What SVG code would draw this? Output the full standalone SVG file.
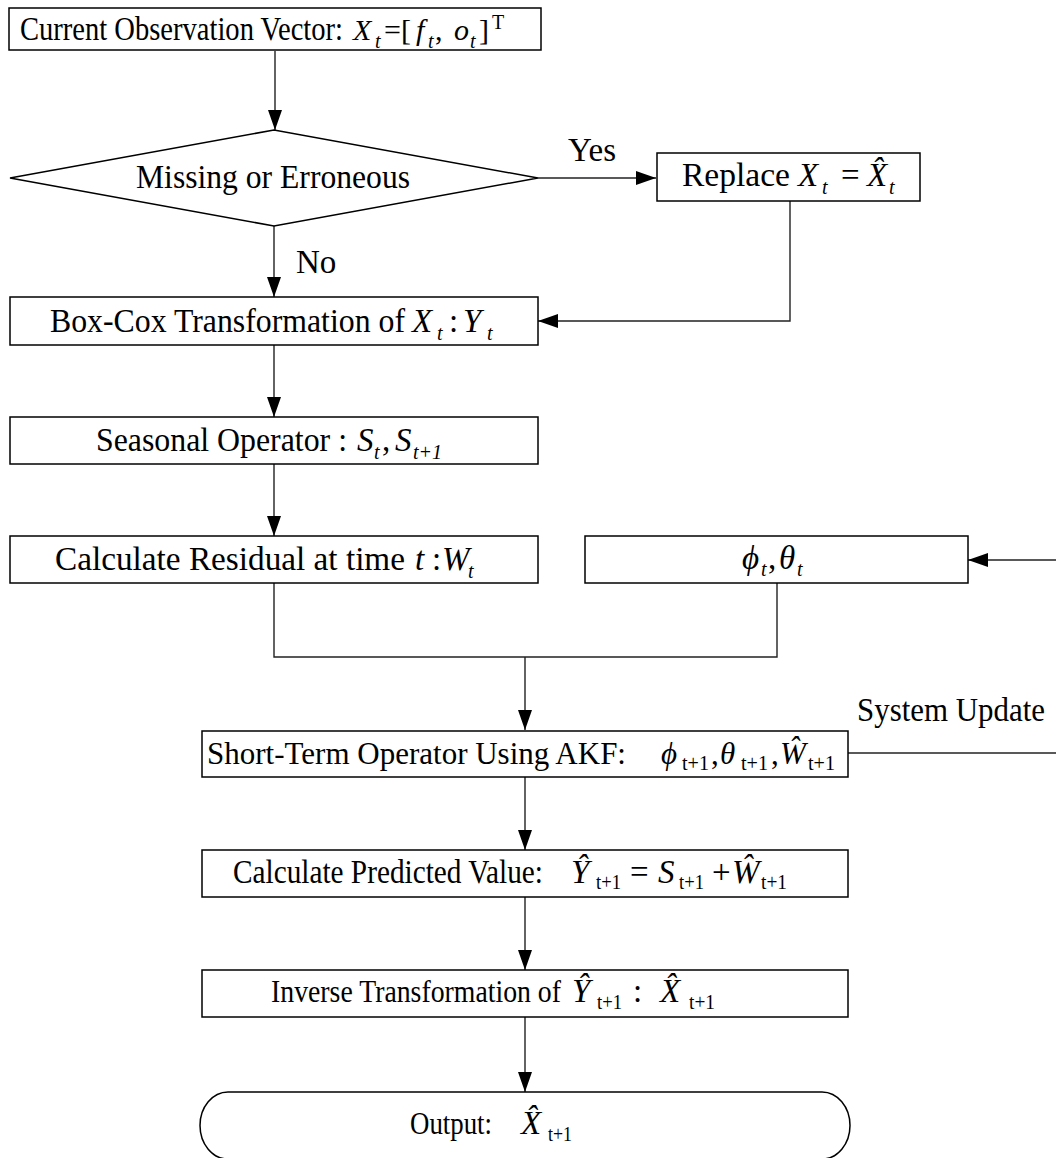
<svg xmlns="http://www.w3.org/2000/svg" width="1056" height="1158" viewBox="0 0 1056 1158">
<style>
.box{fill:#fff;stroke:#000;stroke-width:1.5}
.ln{fill:none;stroke:#222;stroke-width:1.4}
text{font-family:"Liberation Serif","Times New Roman",serif;font-size:33px;fill:#000}
.i{font-style:italic}
.s{font-size:20px;font-style:italic}
.sr{font-size:20px}
</style>
<defs>
<marker id="ah" markerUnits="userSpaceOnUse" markerWidth="20" markerHeight="14" refX="20" refY="7" orient="auto">
<path d="M0,0 L20,7 L0,14 Z" fill="#000"/>
</marker>
</defs>
<rect width="1056" height="1158" fill="#fff"/>
<g id="connectors">
<path class="ln" d="M275,51 V130" marker-end="url(#ah)"/>
<path class="ln" d="M538,178 H656" marker-end="url(#ah)"/>
<path class="ln" d="M274,226 V297" marker-end="url(#ah)"/>
<path class="ln" d="M790,201 V321 H538" marker-end="url(#ah)"/>
<path class="ln" d="M274,345 V417" marker-end="url(#ah)"/>
<path class="ln" d="M274,464 V536" marker-end="url(#ah)"/>
<path class="ln" d="M274,583 V657 H777 V583"/>
<path class="ln" d="M525,657 V730" marker-end="url(#ah)"/>
<path class="ln" d="M1056,560 H968" marker-end="url(#ah)"/>
<path class="ln" d="M848,753 H1056"/>
<path class="ln" d="M525,777 V850" marker-end="url(#ah)"/>
<path class="ln" d="M525,897 V970" marker-end="url(#ah)"/>
<path class="ln" d="M525,1017 V1092" marker-end="url(#ah)"/>
<text x="568" y="161" font-size="31">Yes</text>
<text x="296" y="273" font-size="30">No</text>
<text x="857" y="721" font-size="32" textLength="188" lengthAdjust="spacingAndGlyphs">System Update</text>
</g>
<g id="n1">
<rect class="box" x="9" y="8" width="532" height="42"/>
<text y="40" font-size="28.5"><tspan x="20" textLength="323" lengthAdjust="spacingAndGlyphs">Current Observation Vector:</tspan><tspan class="i" x="353" font-size="30">X</tspan><tspan class="s" x="375" dy="8">t</tspan><tspan x="384" dy="-8" font-size="30">=[</tspan><tspan class="i" x="416" font-size="30">f</tspan><tspan class="s" x="428" dy="8">t</tspan><tspan x="435" dy="-8" font-size="30">,</tspan><tspan class="i" x="454" font-size="30">o</tspan><tspan class="s" x="470" dy="8">t</tspan><tspan x="479" dy="-8" font-size="30">]</tspan><tspan class="sr" x="492" dy="-11">T</tspan></text>
</g>
<g id="n2">
<polygon class="box" points="10,178 274,130 538,178 274,226"/>
<text x="273" y="188" text-anchor="middle" font-size="31" textLength="274" lengthAdjust="spacingAndGlyphs">Missing or Erroneous</text>
</g>
<g id="n3">
<rect class="box" x="657" y="153" width="263" height="48"/>
<text y="186"><tspan x="682" textLength="108" lengthAdjust="spacingAndGlyphs">Replace</tspan><tspan class="i" x="798">X</tspan><tspan class="s" x="822" dy="8">t</tspan><tspan x="841" dy="-8">=</tspan><tspan class="i" x="867">X̂</tspan><tspan class="s" x="889" dy="8">t</tspan></text>
</g>
<g id="n4">
<rect class="box" x="10" y="297" width="528" height="48"/>
<text y="332"><tspan x="50" textLength="355" lengthAdjust="spacingAndGlyphs">Box-Cox Transformation of</tspan><tspan class="i" x="412">X</tspan><tspan class="s" x="437" dy="8">t</tspan><tspan x="449" dy="-8">:</tspan><tspan class="i" x="463">Y</tspan><tspan class="s" x="487" dy="8">t</tspan></text>
</g>
<g id="n5">
<rect class="box" x="10" y="417" width="528" height="47"/>
<text y="451"><tspan x="96" textLength="251" lengthAdjust="spacingAndGlyphs">Seasonal Operator :</tspan><tspan class="i" x="357">S</tspan><tspan class="s" x="374" dy="8">t</tspan><tspan x="382" dy="-8">,</tspan><tspan class="i" x="395">S</tspan><tspan class="s" x="413" dy="8">t+1</tspan></text>
</g>
<g id="n6">
<rect class="box" x="10" y="536" width="528" height="47"/>
<text y="570"><tspan x="55" textLength="350" lengthAdjust="spacingAndGlyphs">Calculate Residual at time</tspan><tspan class="i" x="415">t</tspan><tspan x="432">:</tspan><tspan class="i" x="442">W</tspan><tspan class="s" x="468" dy="8">t</tspan></text>
</g>
<g id="n7">
<rect class="box" x="585" y="536" width="383" height="47"/>
<text y="569"><tspan class="i" x="742">ϕ</tspan><tspan class="s" x="761" dy="7">t</tspan><tspan x="768" dy="-7">,</tspan><tspan class="i" x="779">θ</tspan><tspan class="s" x="797" dy="7">t</tspan></text>
</g>
<g id="n8">
<rect class="box" x="202" y="731" width="646" height="46"/>
<text y="764"><tspan x="207" font-size="31" textLength="419" lengthAdjust="spacingAndGlyphs">Short-Term Operator Using AKF:</tspan><tspan class="i" x="661" font-size="31">ϕ</tspan><tspan class="sr" x="682" dy="6" textLength="27" lengthAdjust="spacingAndGlyphs">t+1</tspan><tspan x="711" dy="-6" font-size="31">,</tspan><tspan class="i" x="720" font-size="31">θ</tspan><tspan class="sr" x="741" dy="6" textLength="27" lengthAdjust="spacingAndGlyphs">t+1</tspan><tspan x="771" dy="-6" font-size="31">,</tspan><tspan class="i" x="780" font-size="31">Ŵ</tspan><tspan class="sr" x="808" dy="6" textLength="27" lengthAdjust="spacingAndGlyphs">t+1</tspan></text>
</g>
<g id="n9">
<rect class="box" x="202" y="850" width="646" height="47"/>
<text y="883"><tspan x="233" textLength="310" lengthAdjust="spacingAndGlyphs">Calculate Predicted Value:</tspan><tspan class="i" x="571">Ŷ</tspan><tspan class="sr" x="596" dy="6" textLength="25" lengthAdjust="spacingAndGlyphs">t+1</tspan><tspan x="630" dy="-6">=</tspan><tspan class="i" x="658">S</tspan><tspan class="sr" x="679" dy="6" textLength="25" lengthAdjust="spacingAndGlyphs">t+1</tspan><tspan x="712" dy="-6">+</tspan><tspan class="i" x="732">Ŵ</tspan><tspan class="sr" x="761" dy="6" textLength="26" lengthAdjust="spacingAndGlyphs">t+1</tspan></text>
</g>
<g id="n10">
<rect class="box" x="202" y="970" width="646" height="47"/>
<text y="1002"><tspan x="271" font-size="30.5" textLength="290" lengthAdjust="spacingAndGlyphs">Inverse Transformation of</tspan><tspan class="i" x="572">Ŷ</tspan><tspan class="sr" x="597" dy="7" textLength="25" lengthAdjust="spacingAndGlyphs">t+1</tspan><tspan x="633" dy="-7">:</tspan><tspan class="i" x="660">X̂</tspan><tspan class="sr" x="689" dy="7" textLength="26" lengthAdjust="spacingAndGlyphs">t+1</tspan></text>
</g>
<g id="n11">
<path class="box" d="M228,1092 H822 A28,33.5 0 0 1 822,1159 H228 A28,33.5 0 0 1 228,1092 Z"/>
<text y="1134"><tspan x="410" font-size="32" textLength="82" lengthAdjust="spacingAndGlyphs">Output:</tspan><tspan class="i" x="521">X̂</tspan><tspan class="sr" x="548" dy="7" textLength="24" lengthAdjust="spacingAndGlyphs">t+1</tspan></text>
</g>
</svg>
